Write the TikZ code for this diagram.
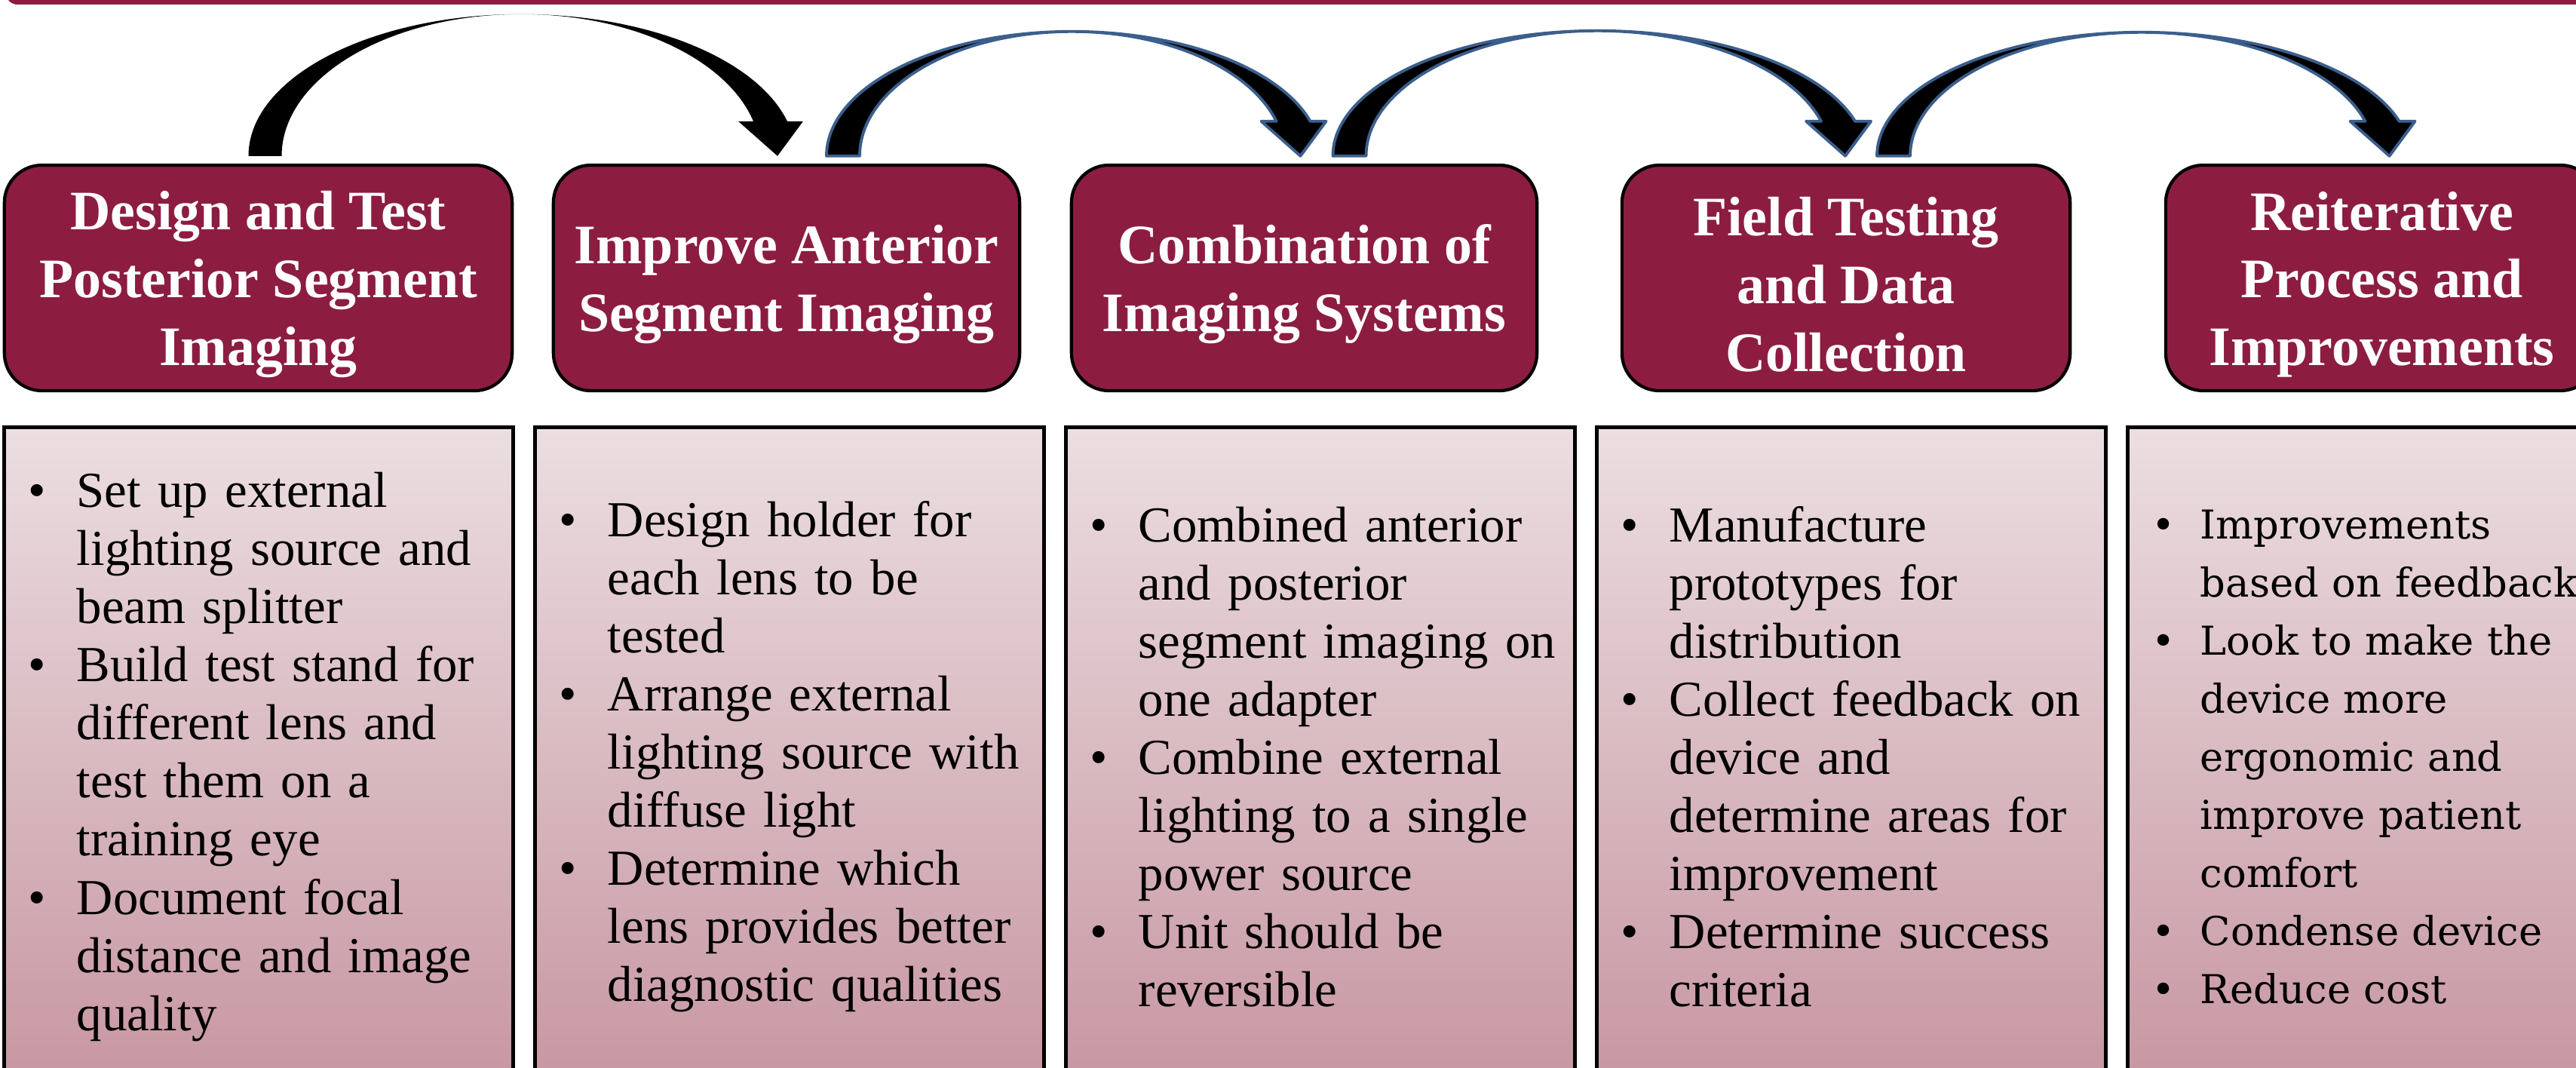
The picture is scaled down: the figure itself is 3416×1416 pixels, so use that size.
\documentclass[tikz,border=0pt]{standalone}
\usepackage{fontspec}
\setmainfont{Liberation Serif}
\newfontfamily\roomyfont{DejaVu Serif}
\usetikzlibrary{calc}

\definecolor{maroon}{RGB}{140,29,65}
\definecolor{arrowblue}{RGB}{59,94,140}
\definecolor{listtop}{RGB}{235,222,225}
\definecolor{listbottom}{RGB}{199,150,161}

% bullet and hanging indent for the task lists
\newcommand{\itm}{\makebox[0.64cm][l]{\textbullet}}
\newcommand{\cnt}{\hspace*{0.64cm}}
% taller first line, pushes the heading text a little lower
\newcommand{\hdstrut}{\rule{0pt}{19.5pt}}

\tikzset{
  phase/.style={draw=black, line width=1.2pt, fill=maroon, rounded corners=0.5cm,
    text=white, font=\bfseries\fontsize{21}{25.5}\selectfont, align=center,
    minimum height=2.99cm, inner sep=0pt},
  tasks/.style={draw=black, line width=1.4pt, top color=listtop, bottom color=listbottom,
    minimum height=8.73cm, inner xsep=0.32cm, inner ysep=0pt,
    text width=6.1cm, align=left, font=\fontsize{19}{21.9}\selectfont},
  plainhop/.style={fill=black},
  bluehop/.style={fill=black, draw=arrowblue, line width=1.1pt, line join=round},
}

% curved block arrow from the top of one box down onto the next one
% #1 look, #2 from, #3 tail shift, #4 to, #5 tip shift, #6 rise of the arc
\newcommand{\hoparrow}[6]{%
  \pgfmathsetmacro{\hopang}{asin(46/#6)}
  \path[#1] let
      \p1 = ($(#2.north)+(#3,10)$),
      \p2 = ($(#4.north)+(#5,10)$),
      \p3 = (44,46),
      \p4 = (#6,0),
      \p5 = (13,32),
      \p6 = (34,52),
      \n1 = {(\x1+\x2+\x3/2)/2},
      \n2 = {(\x2+\x5-\n1)/cos(\hopang)},
      \n3 = {(\x2-\y5-\n1)/cos(\hopang)}
    in (\x1,\y1)
      arc[start angle=180, end angle=90, x radius={\n1-\x1}, y radius=\x4]
      arc[start angle=90, end angle=\hopang, x radius=\n2, y radius=\x4]
      -- (\x2+\x6, \y2+\y3) -- (\x2, \y2) -- (\x2-\y6, \y2+\y3) -- (\x2-\y5, \y2+\y3)
      arc[start angle=\hopang, end angle=90, x radius=\n3, y radius=\x4]
      arc[start angle=90, end angle=180, x radius={\n1-\x1-\x3}, y radius=\x4]
      -- cycle;
}

\begin{document}
\begin{tikzpicture}[x=0.01cm, y=0.01cm]
  \clip (0,0) rectangle (3416,-1416);
  % strip along the top edge
  \fill[maroon, rounded corners=0.15cm] (8,30) rectangle (3450,-6);

  % phase headings
  \node[phase, minimum width=6.73cm] (p1) at (342.5,-368.5) {\hdstrut Design and Test\\Posterior Segment\\Imaging};
  \node[phase, minimum width=6.18cm] (p2) at (1043,-368.5) {\hdstrut Improve Anterior\\Segment Imaging};
  \node[phase, minimum width=6.17cm] (p3) at (1729.5,-368.5) {\hdstrut Combination of\\Imaging Systems};
  \node[phase, minimum width=5.94cm] (p4) at (2448,-368.5) {\hdstrut Field Testing\\and Data\\Collection};
  \node[phase, minimum width=5.73cm] (p5) at (3158.5,-368.5) {\hdstrut Reiterative\\Process and\\Improvements};

  % arrows between the phases
  \hoparrow{plainhop}{p1}{-13}{p2}{-12}{188}
  \hoparrow{bluehop}{p2}{53}{p3}{-5}{165}
  \hoparrow{bluehop}{p3}{38}{p4}{-1}{166}
  \hoparrow{bluehop}{p4}{41}{p5}{10}{164}

  % task lists under each phase
  \node[tasks] (t1) at (343,-1003.5) {\itm Set up external\\ \cnt lighting source and\\ \cnt beam splitter\\
    \itm Build test stand for\\ \cnt different lens and\\ \cnt test them on a\\ \cnt training eye\\
    \itm Document focal\\ \cnt distance and image\\ \cnt quality};
  \node[tasks] (t2) at (1047,-1003.5) {\itm Design holder for\\ \cnt each lens to be\\ \cnt tested\\
    \itm Arrange external\\ \cnt lighting source with\\ \cnt diffuse light\\
    \itm Determine which\\ \cnt lens provides better\\ \cnt diagnostic qualities};
  \node[tasks] (t3) at (1751,-1003.5) {\itm Combined anterior\\ \cnt and posterior\\ \cnt \mbox{segment imaging on}\\ \cnt one adapter\\
    \itm Combine external\\ \cnt lighting to a single\\ \cnt power source\\
    \itm Unit should be\\ \cnt reversible};
  \node[tasks] (t4) at (2455,-1003.5) {\itm Manufacture\\ \cnt prototypes for\\ \cnt distribution\\
    \itm Collect feedback on\\ \cnt device and\\ \cnt determine areas for\\ \cnt improvement\\
    \itm Determine success\\ \cnt criteria};
  \node[tasks, font=\roomyfont\fontsize{15}{21.9}\selectfont] (t5) at (3159,-1003.5) {\itm Improvements\\ \cnt \mbox{based on feedback}\\
    \itm Look to make the\\ \cnt device more\\ \cnt ergonomic and\\ \cnt improve patient\\ \cnt comfort\\
    \itm Condense device\\
    \itm Reduce cost};
\end{tikzpicture}
\end{document}
